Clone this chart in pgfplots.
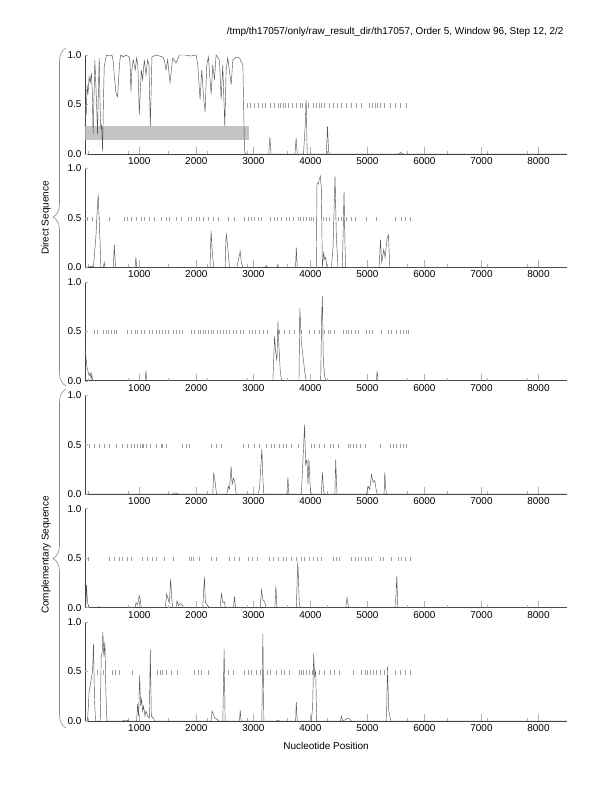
\documentclass[border=0pt]{standalone}
\usepackage{fontspec}
\setmainfont{Liberation Sans}
\usepackage{pgfplots}
\pgfplotsset{compat=1.18}
\usetikzlibrary{decorations.pathreplacing}
\definecolor{lineg}{gray}{0.33}
\definecolor{dashg}{gray}{0.62}
\definecolor{boxg}{gray}{0.77}
\pgfplotsset{panel/.style={
  scale only axis, width=482bp, height=99bp,
  xmin=48, xmax=8500, ymin=0, ymax=1,
  axis lines=left, axis line style={-, draw=black!75, line width=0.6bp},
  tick align=inside, major tick length=7bp,
  tick style={draw=black!30, line width=0.5bp},
  xtick={1000,2000,3000,4000,5000,6000,7000,8000},
  scaled x ticks=false,
  ytick=\empty,
  extra y ticks={0,0.5,1}, extra y tick labels={0.0,0.5,1.0},
  extra y tick style={major tick length=3bp},
  extra x ticks={100,800,1500,2200,2900,3600,4300,5700,6400,7100,7800},
  extra x tick style={major tick length=3bp, xticklabel={}},
  tick label style={font=\fontsize{10}{12}\selectfont},
  /pgf/number format/assume math mode=true,
  /pgf/number format/1000 sep={},
  },
  curve/.style={draw=lineg, line width=0.45bp, mark=none},
  dash/.style={only marks, mark=|, mark size=2.1bp, mark options={draw=dashg, line width=0.4bp}},
}
\begin{document}
\begin{tikzpicture}
\useasboundingbox (0bp,0bp) rectangle (612bp,792bp);
\node[anchor=base east, font=\fontsize{10}{12}\selectfont] at (567bp,757bp) {/tmp/th17057/only/raw\_result\_dir/th17057, Order 5, Window 96, Step 12, 2/2};

% Panel 1
\begin{axis}[panel, at={(85bp,638bp)}, anchor=south west]
\addplot[fill=boxg, draw=none] coordinates {(48,0.145) (2915,0.145) (2915,0.285) (48,0.285)} -- cycle;
\addplot[dash] coordinates {(2890,.49) (2944,.49) (3009,.49) (3079,.49) (3149,.49) (3214,.49) (3296,.49) (3372,.49) (3431,.49) (3472,.49) (3518,.49) (3565,.49) (3606,.49) (3683,.49) (3753,.49) (3823,.49) (3858,.49) (3911,.49) (3958,.49) (4046,.49) (4104,.49) (4151,.49) (4192,.49) (4251,.49) (4327,.49) (4397,.49) (4467,.49) (4544,.49) (4631,.49) (4719,.49) (4807,.49) (4895,.49) (5030,.49) (5088,.49) (5129,.49) (5170,.49) (5217,.49) (5287,.49) (5393,.49) (5481,.49) (5569,.49) (5686,.49)};
\addplot[curve] coordinates {(48,0.05) (55,0.5) (70,0.4) (85,0.7) (100,0.6) (120,0.78) (140,0.72) (160,0.82) (175,0.65) (190,0.2) (205,0.55) (221,0.95) (245,0.6) (268,0.2) (285,0.7) (297,0.97) (312,0.5) (326,0.25) (340,0.3) (356,0.03) (370,0.5) (385,0.88) (405,0.95) (426,1.0) (470,0.99) (520,1.0) (545,0.93) (560,0.8) (590,0.62) (619,0.58) (637,0.75) (660,0.95) (678,1.0) (720,0.98) (765,1.0) (824,0.98) (840,0.9) (853,0.63) (870,0.85) (894,0.95) (930,0.85) (953,0.97) (975,0.9) (1000,0.4) (1035,0.85) (1058,0.75) (1088,0.95) (1117,0.8) (1146,0.95) (1170,0.9) (1193,0.28) (1222,0.98) (1293,1.0) (1350,0.99) (1410,0.98) (1440,0.95) (1468,0.85) (1498,0.95) (1539,0.72) (1586,0.97) (1644,0.92) (1703,1.0) (1800,1.0) (1900,0.99) (1996,1.0) (2025,0.9) (2066,0.55) (2095,0.85) (2124,0.6) (2154,0.42) (2183,0.9) (2212,0.98) (2259,0.6) (2288,0.9) (2318,0.75) (2347,1.0) (2406,0.95) (2435,0.55) (2464,0.9) (2499,0.28) (2523,0.85) (2552,0.97) (2611,0.7) (2640,0.95) (2699,0.98) (2757,0.97) (2816,0.9) (2845,0.02) (2874,0.0) (3270,0.0) (3290,0.17) (3310,0.0) (3730,0.0) (3750,0.16) (3770,0.0) (3880,0.0) (3900,0.2) (3915,0.35) (3926,0.55) (3945,0.0) (4280,0.0) (4300,0.28) (4320,0.02) (4340,0.0) (5550,0.0) (5580,0.015) (5620,0.0) (8500,0.0)};
\end{axis}

% Panel 2
\begin{axis}[panel, at={(85bp,524.6bp)}, anchor=south west]
\addplot[dash] coordinates {(92,.49) (180,.49) (297,.49) (473,.49) (736,.49) (795,.49) (853,.49) (941,.49) (1029,.49) (1088,.49) (1176,.49) (1263,.49) (1380,.49) (1480,.49) (1527,.49) (1644,.49) (1732,.49) (1849,.49) (1908,.49) (1996,.49) (2054,.49) (2113,.49) (2201,.49) (2288,.49) (2376,.49) (2552,.49) (2669,.49) (2845,.49) (2903,.49) (2962,.49) (3020,.49) (3079,.49) (3137,.49) (3296,.49) (3372,.49) (3413,.49) (3489,.49) (3577,.49) (3635,.49) (3694,.49) (3782,.49) (3823,.49) (3870,.49) (3928,.49) (3975,.49) (4016,.49) (4057,.49) (4221,.49) (4280,.49) (4338,.49) (4485,.49) (4543,.49) (4631,.49) (4719,.49) (4778,.49) (4983,.49) (5158,.49) (5481,.49) (5598,.49) (5657,.49) (5744,.49)};
\addplot[curve] coordinates {(48,0.0) (180,0.01) (195,0.0) (209,0.1) (238,0.3) (260,0.55) (279,0.74) (295,0.5) (309,0.3) (326,0.0) (370,0.0) (385,0.05) (400,0.0) (545,0.0) (561,0.23) (578,0.05) (590,0.0) (925,0.0) (941,0.1) (955,0.0) (2240,0.0) (2259,0.37) (2275,0.2) (2288,0.1) (2306,0.0) (2505,0.0) (2523,0.35) (2552,0.2) (2581,0.0) (2710,0.0) (2728,0.05) (2769,0.16) (2790,0.05) (2816,0.0) (3200,0.0) (3225,0.02) (3250,0.0) (3420,0.0) (3430,0.03) (3440,0.0) (3740,0.0) (3753,0.2) (3770,0.0) (4104,0.0) (4116,0.85) (4140,0.84) (4151,0.88) (4175,0.92) (4192,0.8) (4210,0.0) (4233,0.15) (4250,0.08) (4268,0.1) (4292,0.0) (4368,0.0) (4397,0.2) (4432,0.92) (4456,0.3) (4485,0.0) (4561,0.0) (4590,0.76) (4608,0.2) (4620,0.0) (5205,0.0) (5229,0.28) (5252,0.05) (5287,0.18) (5311,0.1) (5346,0.3) (5369,0.33) (5393,0.0) (8500,0.0)};
\end{axis}

% Panel 3
\begin{axis}[panel, at={(85bp,411.2bp)}, anchor=south west]
\addplot[dash] coordinates {(209,.49) (268,.49) (368,.49) (414,.49) (449,.49) (502,.49) (561,.49) (602,.49) (795,.49) (853,.49) (930,.49) (971,.49) (1029,.49) (1088,.49) (1176,.49) (1234,.49) (1293,.49) (1351,.49) (1410,.49) (1457,.49) (1515,.49) (1586,.49) (1644,.49) (1703,.49) (1750,.49) (1908,.49) (1966,.49) (2025,.49) (2066,.49) (2113,.49) (2159,.49) (2206,.49) (2259,.49) (2300,.49) (2359,.49) (2417,.49) (2464,.49) (2523,.49) (2581,.49) (2640,.49) (2699,.49) (2769,.49) (2816,.49) (2933,.49) (2980,.49) (3038,.49) (3097,.49) (3167,.49) (3237,.49) (3460,.49) (3548,.49) (3635,.49) (3723,.49) (3841,.49) (3987,.49) (4075,.49) (4163,.49) (4251,.49) (4309,.49) (4339,.49) (4426,.49) (4573,.49) (4620,.49) (4661,.49) (4719,.49) (4778,.49) (4836,.49) (4971,.49) (5030,.49) (5088,.49) (5246,.49) (5364,.49) (5422,.49) (5510,.49) (5569,.49) (5627,.49) (5686,.49) (5715,.49)};
\addplot[curve] coordinates {(48,0.33) (63,0.25) (80,0.15) (98,0.1) (121,0.05) (139,0.08) (156,0.02) (168,0.07) (180,0.0) (1100,0.0) (1117,0.1) (1130,0.0) (3343,0.0) (3372,0.45) (3390,0.3) (3413,0.2) (3431,0.6) (3448,0.35) (3472,0.1) (3495,0.0) (3800,0.0) (3815,0.74) (3840,0.4) (3870,0.25) (3899,0.1) (3928,0.0) (4180,0.0) (4198,0.65) (4210,0.86) (4227,0.2) (4251,0.05) (4268,0.0) (5160,0.0) (5170,0.1) (5188,0.0) (8500,0.0)};
\end{axis}

% Panel 4
\begin{axis}[panel, at={(85bp,297.8bp)}, anchor=south west]
\addplot[dash] coordinates {(121,.49) (209,.49) (297,.49) (385,.49) (473,.49) (590,.49) (707,.49) (795,.49) (853,.49) (912,.49) (971,.49) (1017,.49) (1047,.49) (1076,.49) (1129,.49) (1187,.49) (1304,.49) (1380,.49) (1398,.49) (1468,.49) (1761,.49) (1820,.49) (1878,.49) (2259,.49) (2347,.49) (2435,.49) (2816,.49) (2903,.49) (3020,.49) (3108,.49) (3225,.49) (3313,.49) (3372,.49) (3448,.49) (3518,.49) (3577,.49) (3665,.49) (3782,.49) (3870,.49) (4016,.49) (4075,.49) (4163,.49) (4251,.49) (4339,.49) (4397,.49) (4485,.49) (4661,.49) (4702,.49) (4749,.49) (4807,.49) (4866,.49) (4954,.49) (5217,.49) (5393,.49) (5451,.49) (5510,.49) (5569,.49) (5627,.49) (5686,.49)};
\addplot[curve] coordinates {(48,0.0) (1580,0.0) (1600,0.01) (1660,0.01) (1680,0.0) (2288,0.0) (2306,0.22) (2335,0.1) (2353,0.0) (2535,0.0) (2558,0.08) (2581,0.05) (2611,0.28) (2628,0.1) (2652,0.16) (2675,0.12) (2699,0.0) (3079,0.0) (3108,0.05) (3149,0.46) (3167,0.15) (3184,0.0) (3588,0.0) (3606,0.17) (3623,0.0) (3841,0.0) (3870,0.35) (3899,0.7) (3917,0.3) (3940,0.35) (3958,0.1) (3975,0.35) (3999,0.05) (4016,0.0) (4192,0.0) (4210,0.22) (4233,0.03) (4250,0.0) (4430,0.0) (4444,0.35) (4467,0.0) (4983,0.0) (5012,0.08) (5041,0.05) (5071,0.2) (5100,0.12) (5129,0.14) (5158,0.03) (5176,0.0) (5293,0.0) (5305,0.22) (5322,0.05) (5334,0.0) (8500,0.0)};
\end{axis}

% Panel 5
\begin{axis}[panel, at={(85bp,184.4bp)}, anchor=south west]
\addplot[dash] coordinates {(110,.49) (473,.49) (561,.49) (648,.49) (707,.49) (795,.49) (853,.49) (1058,.49) (1146,.49) (1234,.49) (1304,.49) (1439,.49) (1586,.49) (1867,.49) (1908,.49) (1949,.49) (2054,.49) (2259,.49) (2347,.49) (2581,.49) (2669,.49) (2757,.49) (2903,.49) (2980,.49) (3062,.49) (3284,.49) (3354,.49) (3431,.49) (3518,.49) (3577,.49) (3665,.49) (3753,.49) (3841,.49) (3899,.49) (3975,.49) (4046,.49) (4116,.49) (4192,.49) (4397,.49) (4456,.49) (4514,.49) (4719,.49) (4778,.49) (4836,.49) (4895,.49) (4954,.49) (5012,.49) (5071,.49) (5217,.49) (5276,.49) (5422,.49) (5539,.49) (5598,.49) (5657,.49) (5744,.49)};
\addplot[curve] coordinates {(48,0.0) (63,0.0) (74,0.23) (92,0.05) (121,0.0) (268,0.0) (290,0.01) (326,0.0) (929,0.0) (941,0.05) (970,0.03) (1000,0.12) (1017,0.08) (1035,0.0) (1457,0.0) (1480,0.14) (1498,0.1) (1527,0.05) (1550,0.29) (1568,0.1) (1586,0.0) (1644,0.0) (1662,0.07) (1685,0.02) (1715,0.04) (1750,0.03) (1773,0.0) (2113,0.0) (2142,0.31) (2159,0.05) (2201,0.02) (2230,0.0) (2417,0.0) (2440,0.14) (2464,0.05) (2488,0.06) (2511,0.0) (2652,0.0) (2669,0.11) (2687,0.0) (3120,0.0) (3143,0.18) (3167,0.08) (3196,0.06) (3225,0.0) (3378,0.0) (3395,0.22) (3413,0.0) (3753,0.0) (3780,0.47) (3805,0.05) (3823,0.0) (4620,0.0) (4643,0.1) (4667,0.01) (4690,0.0) (5481,0.0) (5498,0.1) (5516,0.32) (5533,0.0) (8500,0.0)};
\end{axis}

% Panel 6
\begin{axis}[panel, at={(85bp,71bp)}, anchor=south west]
\addplot[dash] coordinates {(268,.49) (367,.49) (520,.49) (578,.49) (648,.49) (883,.49) (1322,.49) (1369,.49) (1410,.49) (1468,.49) (1556,.49) (1673,.49) (1966,.49) (2025,.49) (2083,.49) (2201,.49) (2552,.49) (2640,.49) (2845,.49) (2903,.49) (2962,.49) (3050,.49) (3120,.49) (3167,.49) (3237,.49) (3296,.49) (3401,.49) (3489,.49) (3548,.49) (3635,.49) (3799,.49) (3841,.49) (3882,.49) (3928,.49) (3987,.49) (4034,.49) (4075,.49) (4163,.49) (4251,.49) (4339,.49) (4426,.49) (4514,.49) (4749,.49) (4895,.49) (4954,.49) (4995,.49) (5041,.49) (5100,.49) (5158,.49) (5217,.49) (5287,.49) (5346,.49) (5481,.49) (5569,.49) (5657,.49) (5744,.49)};
\addplot[curve] coordinates {(48,0.0) (92,0.0) (121,0.3) (151,0.4) (180,0.5) (197,0.78) (215,0.2) (233,0.0) (315,0.0) (332,0.65) (350,0.7) (361,0.9) (379,0.65) (397,0.8) (414,0.3) (432,0.0) (707,0.0) (750,0.01) (824,0.0) (953,0.0) (970,0.17) (988,0.05) (1006,0.46) (1023,0.15) (1041,0.22) (1058,0.1) (1076,0.15) (1099,0.05) (1117,0.1) (1146,0.05) (1176,0.03) (1193,0.72) (1211,0.05) (1246,0.03) (1269,0.0) (2259,0.0) (2277,0.1) (2300,0.07) (2323,0.03) (2359,0.02) (2394,0.0) (2464,0.0) (2488,0.72) (2505,0.0) (2757,0.0) (2769,0.11) (2786,0.0) (3149,0.0) (3167,0.88) (3184,0.0) (3401,0.0) (3430,0.01) (3460,0.0) (3741,0.0) (3753,0.19) (3770,0.0) (4016,0.0) (4040,0.15) (4058,0.68) (4075,0.45) (4093,0.5) (4110,0.0) (4530,0.0) (4543,0.05) (4570,0.0) (4602,0.01) (4661,0.03) (4690,0.02) (4720,0.0) (5334,0.0) (5352,0.55) (5375,0.1) (5393,0.05) (5410,0.0) (8500,0.0)};
\end{axis}

% braces and labels
\draw[decorate, decoration={brace, amplitude=13bp}, draw=black!45, line width=0.6bp] (66bp,406bp) -- (66bp,744bp);
\draw[decorate, decoration={brace, amplitude=13bp}, draw=black!45, line width=0.6bp] (66bp,64bp) -- (66bp,403bp);
\node[rotate=90, font=\fontsize{10}{12}\selectfont] at (46bp,574bp) {Direct Sequence};
\node[rotate=90, font=\fontsize{10}{12}\selectfont] at (46bp,237bp) {Complementary Sequence};
\node[font=\fontsize{10}{12}\selectfont] at (326bp,46bp) {Nucleotide Position};
\end{tikzpicture}
\end{document}
